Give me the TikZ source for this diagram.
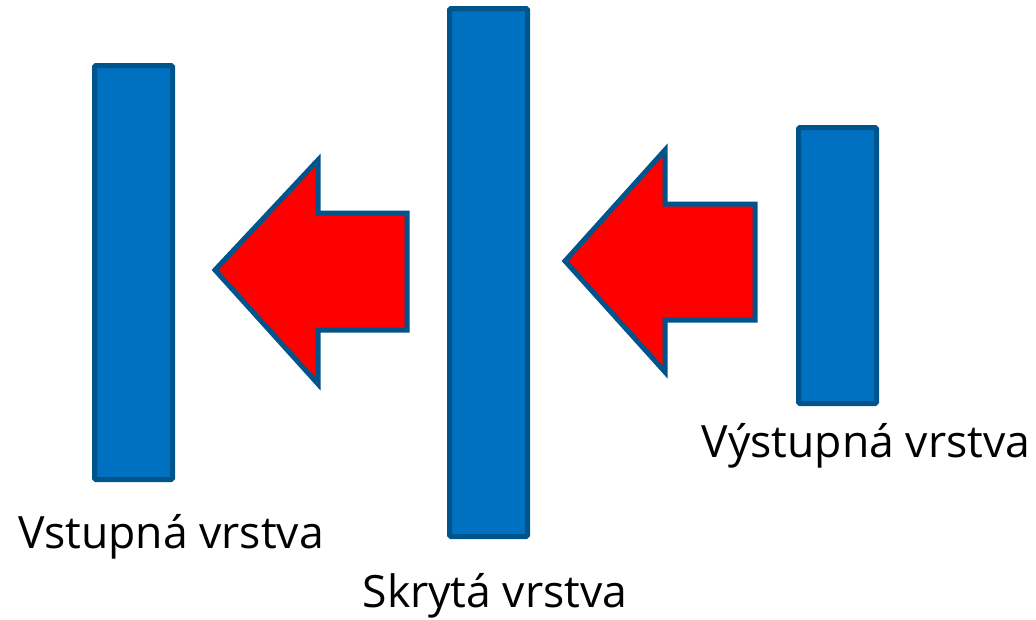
\documentclass[tikz,border=0pt]{standalone}
\usepackage{fontspec}
\setmainfont{Open Sans}
\definecolor{barfill}{RGB}{0,112,192}
\definecolor{barline}{RGB}{0,84,140}
\definecolor{arrowfill}{RGB}{255,0,0}
\begin{document}
\begin{tikzpicture}[x=1pt,y=-1pt,
  bar/.style={draw=barline,fill=barfill,line width=5pt,rounded corners=1.5pt,inner sep=0pt,minimum width=78pt},
  blockarrow/.style={draw=barline,fill=arrowfill,line width=5pt,line join=miter},
  label/.style={anchor=base,inner sep=0pt,font=\fontsize{44.5}{54}\selectfont}]
\useasboundingbox (0,0) rectangle (1036,619);
% bars
\node[bar,minimum height=414pt] (in) at (133.5,272.5) {};
\node[bar,minimum height=528pt] (hid) at (488.5,272.5) {};
\node[bar,minimum height=276pt] (out) at (837.5,265.5) {};
% block arrows
\draw[blockarrow] (215,270) -- (318,160) -- (318,213) -- (407,213) -- (407,330) -- (318,330) -- (318,384) -- cycle;
\draw[blockarrow] (565,261) -- (665,150) -- (665,204) -- (755,204) -- (755,320) -- (665,320) -- (665,372) -- cycle;
% labels
\node[label] (lin) at (171,548) {Vstupná vrstva};
\node[label] (lhid) at (495,607) {Skrytá vrstva};
\node[label] (lout) at (866,457) {Výstupná vrstva};
\end{tikzpicture}
\end{document}
